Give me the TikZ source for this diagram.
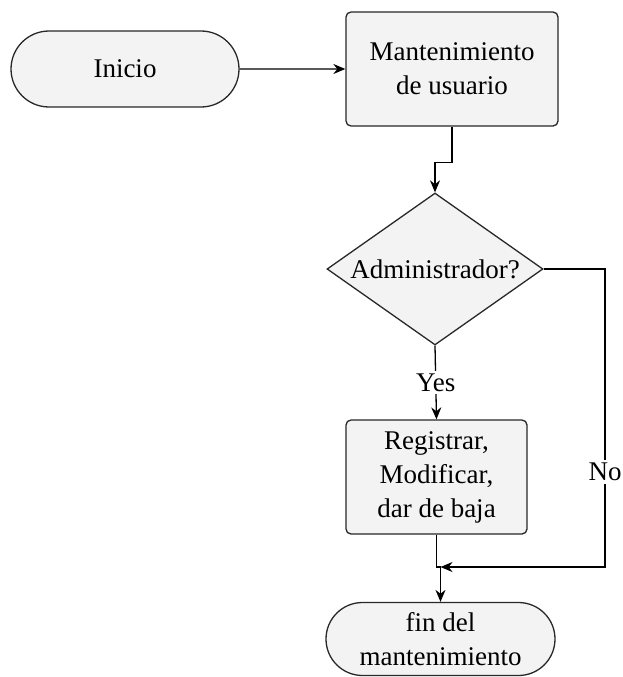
\documentclass[tikz,border=0pt]{standalone}
\usepackage{fontspec}
\setmainfont{Liberation Serif}
\usetikzlibrary{arrows.meta,positioning,shapes.geometric,shapes.misc}
\definecolor{boxfill}{RGB}{243,243,243}
\definecolor{boxline}{RGB}{40,40,40}
\tikzset{
  base/.style={draw=boxline, line width=1.3pt, fill=boxfill, align=center,
    font=\fontsize{27}{34}\selectfont, inner sep=0pt},
  terminal/.style={base, rounded rectangle},
  process/.style={base, rectangle, rounded corners=5pt},
  decision/.style={base, diamond, aspect=1.42},
  link/.style={line width=1.3pt, -{Stealth[length=12pt,width=10pt]}},
  tag/.style={fill=white, font=\fontsize{27}{30}\selectfont, inner sep=3pt}
}
\begin{document}
\begin{tikzpicture}[x=1pt,y=-1pt]
\useasboundingbox (0,0) rectangle (623,677);
\node[terminal, minimum width=228pt, minimum height=76pt] (inicio) at (125,69) {Inicio};
\node[process, minimum width=212pt, minimum height=114pt] (mant) at (452,69) {Mantenimiento\\de usuario};
\node[decision, minimum width=216pt, minimum height=152pt] (admin) at (435,269) {Administrador?};
\node[process, minimum width=181pt, minimum height=114pt] (reg) at (436.5,477) {Registrar,\\Modificar,\\dar de baja};
\node[terminal, minimum width=229pt, minimum height=73pt] (fin) at (440.5,639) {fin del\\mantenimiento};
\coordinate (merge) at (440.5,567);
\coordinate (rgt) at (605,269);

\draw[link] (inicio) -- (mant);
\draw[link] (mant.south) -- ++(0,36) -| (admin.north);
\draw[link] (admin.south) -- node[tag, pos=0.5] (yes) {Yes} (reg.north);
\draw[link] (reg.south) |- (merge) -- (fin.north);
\draw[link] (admin.east) -- (rgt) -- node[tag, pos=0.68] (no) {No} (rgt |- merge) -- (merge);
\end{tikzpicture}
\end{document}
